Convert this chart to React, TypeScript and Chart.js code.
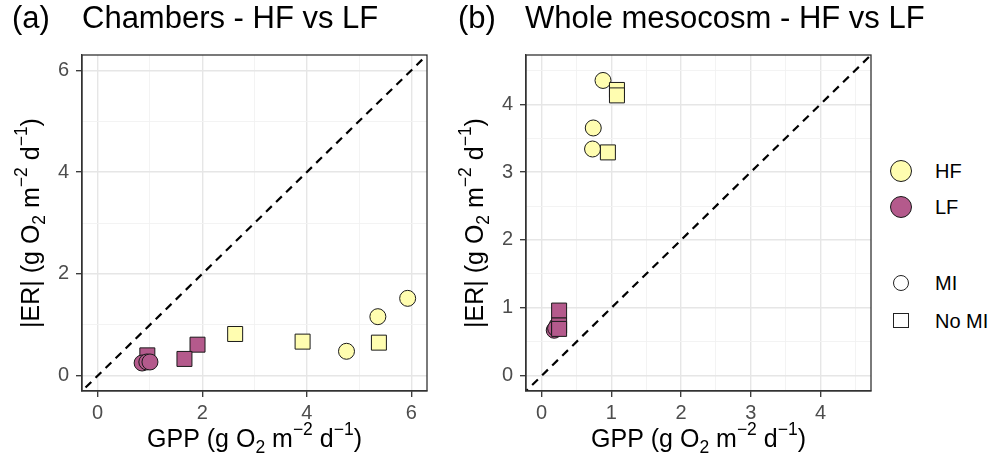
import React, { useEffect, useRef } from 'react';
import { Chart, registerables } from 'chart.js';

Chart.register(...registerables);

// ---------- data ----------
// Panel (a): Chambers
const chamHF_MI_gpp = [5.93, 5.36, 4.76];
const chamHF_MI_er = [1.52, 1.16, 0.48];
const chamHF_NoMI_gpp = [5.38, 3.92, 2.63];
const chamHF_NoMI_er = [0.65, 0.67, 0.82];
const chamLF_NoMI_gpp = [1.91, 1.66, 0.95];
const chamLF_NoMI_er = [0.61, 0.33, 0.4];
const chamLF_MI_gpp = [0.85, 0.94, 1.0];
const chamLF_MI_er = [0.25, 0.27, 0.27];

// Panel (b): Whole mesocosm
const mesoHF_MI_gpp = [0.88, 0.74, 0.73];
const mesoHF_MI_er = [4.35, 3.65, 3.34];
const mesoHF_NoMI_gpp = [1.08, 1.08, 0.95];
const mesoHF_NoMI_er = [4.21, 4.13, 3.29];
const mesoLF_NoMI_gpp = [0.25, 0.25, 0.25];
const mesoLF_NoMI_er = [0.96, 0.74, 0.69];
const mesoLF_MI_gpp = [0.18, 0.22, 0.2];
const mesoLF_MI_er = [0.67, 0.74, 0.7];

// 1:1 reference line end points
const identityLine = [-1, 10];

// axes
const chamTicks = [0, 1, 2, 3, 4, 5, 6];
const chamLimit = 6;
const mesoTicks = [0, 0.5, 1, 1.5, 2, 2.5, 3, 3.5, 4, 4.5];
const mesoLimit = 4.5;

const panelTitles = ['Chambers - HF vs LF', 'Whole mesocosm - HF vs LF'];
const panelTags = ['(a)', '(b)'];
// axis titles: [text, role] where role n = normal, sub = subscript, sup = superscript
const xTitleParts: [string, string][] = [['GPP (g O', 'n'], ['2', 'sub'], [' m', 'n'], ['\u22122', 'sup'], [' d', 'n'], ['\u22121', 'sup'], [')', 'n']];
const yTitleParts: [string, string][] = [['|ER| (g O', 'n'], ['2', 'sub'], [' m', 'n'], ['\u22122', 'sup'], [' d', 'n'], ['\u22121', 'sup'], [')', 'n']];

const legendFillLabels = ['HF', 'LF'];
const legendShapeLabels = ['MI', 'No MI'];

// ---------- styles ----------
const HF_COLOR = '#FFFDB0';
const LF_COLOR = '#B45A8C';
const FONT = '"Liberation Sans", Arial, sans-serif';
const TITLE_SIZE = 25;

const zip = (xs: number[], ys: number[]) => xs.map((x, i) => ({ x, y: ys[i] }));

function pointSet(xs: number[], ys: number[], color: string, shape: 'circle' | 'rect') {
  return {
    data: zip(xs, ys),
    backgroundColor: color,
    borderColor: '#1a1a1a',
    borderWidth: 1,
    pointStyle: shape,
    pointRadius: shape === 'circle' ? 8 : 10.6,
    pointHoverRadius: shape === 'circle' ? 8 : 10.6,
  };
}

function lineSet() {
  return {
    data: identityLine.map((v) => ({ x: v, y: v })),
    showLine: true,
    borderColor: '#000',
    borderWidth: 2.2,
    borderDash: [8, 6],
    pointRadius: 0,
    pointHoverRadius: 0,
    fill: false,
  };
}

const borderPlugin = {
  id: 'panelBorder',
  afterDatasetsDraw(chart: any) {
    const { ctx, chartArea: a } = chart;
    ctx.save();
    ctx.strokeStyle = '#333333';
    ctx.lineWidth = 1.3;
    ctx.strokeRect(a.left, a.top, a.right - a.left, a.bottom - a.top);
    ctx.restore();
  },
};

function drawRich(ctx: CanvasRenderingContext2D, parts: [string, string][], x: number, y: number, rotate: boolean) {
  const F = TITLE_SIZE;
  const sizeOf = (role: string) => (role === 'n' ? F : F * 0.7);
  const dyOf = (role: string) => (role === 'sub' ? F * 0.25 : role === 'sup' ? -F * 0.5 : 0);
  let total = 0;
  const widths: number[] = [];
  for (const [t, role] of parts) {
    ctx.font = `${sizeOf(role)}px ${FONT}`;
    const w = ctx.measureText(t).width;
    widths.push(w);
    total += w;
  }
  ctx.save();
  ctx.translate(x, y);
  if (rotate) ctx.rotate(-Math.PI / 2);
  ctx.fillStyle = '#000';
  ctx.textBaseline = 'alphabetic';
  ctx.textAlign = 'left';
  let pos = -total / 2;
  parts.forEach(([t, role], i) => {
    ctx.font = `${sizeOf(role)}px ${FONT}`;
    ctx.fillText(t, pos, dyOf(role));
    pos += widths[i];
  });
  ctx.restore();
}

const titlePlugin = {
  id: 'richAxisTitles',
  afterDraw(chart: any) {
    const { ctx, chartArea: a } = chart;
    drawRich(ctx, xTitleParts, (a.left + a.right) / 2, 447, false);
    drawRich(ctx, yTitleParts, 39, (a.top + a.bottom) / 2, true);
  },
};

function axisOptions(ticks: number[], limit: number, majorStep: number, isX: boolean) {
  const pad = limit * 0.05;
  const isMajor = (v: number) => Math.abs(v / majorStep - Math.round(v / majorStep)) < 1e-6;
  return {
    type: 'linear',
    position: isX ? 'bottom' : 'left',
    min: -pad,
    max: limit + pad,
    afterBuildTicks: (scale: any) => {
      scale.ticks = ticks.map((v) => ({ value: v }));
    },
    afterFit: (scale: any) => {
      if (isX) scale.height = 77;
      else scale.width = 82;
    },
    ticks: {
      autoSkip: false,
      maxRotation: 0,
      color: '#4d4d4d',
      font: { family: FONT, size: 20 },
      padding: isX ? 4 : 7,
      callback: (v: number) => (isMajor(v) ? String(v) : ''),
    },
    grid: {
      color: (c: any) => (c.tick && isMajor(c.tick.value) ? '#e6e6e6' : '#f2f2f2'),
      lineWidth: (c: any) => (c.tick && isMajor(c.tick.value) ? 1.4 : 0.9),
      tickColor: (c: any) => (c.tick && isMajor(c.tick.value) ? '#333333' : 'rgba(0,0,0,0)'),
      tickLength: 6,
      tickWidth: 1.3,
      drawTicks: true,
    },
    border: { display: true, color: '#333333', width: 1.3 },
    title: { display: false },
  };
}

function Panel(props: { left: number; width: number; datasets: any[]; ticks: number[]; limit: number; majorStep: number }) {
  const ref = useRef<HTMLCanvasElement | null>(null);
  useEffect(() => {
    if (!ref.current) return;
    const chart = new Chart(ref.current, {
      type: 'scatter',
      data: { datasets: props.datasets },
      options: {
        animation: false,
        responsive: false,
        devicePixelRatio: 1,
        layout: { padding: { top: 55, right: props.width - 82 - 345, left: 0, bottom: 0 } },
        plugins: { legend: { display: false }, tooltip: { enabled: false } },
        scales: {
          x: axisOptions(props.ticks, props.limit, props.majorStep, true) as any,
          y: axisOptions(props.ticks, props.limit, props.majorStep, false) as any,
        },
      },
      plugins: [borderPlugin, titlePlugin],
    });
    return () => chart.destroy();
  }, []);
  return (
    <canvas
      ref={ref}
      width={props.width}
      height={468}
      style={{ position: 'absolute', left: props.left, top: 0, width: props.width, height: 468 }}
    />
  );
}

const titleStyle = (left: number): React.CSSProperties => ({
  position: 'absolute',
  left,
  top: 2,
  fontFamily: FONT,
  fontSize: 31,
  lineHeight: '31px',
  color: '#000',
  whiteSpace: 'nowrap',
});

export default function App() {
  const chamSets = [
    lineSet(),
    pointSet(chamHF_NoMI_gpp, chamHF_NoMI_er, HF_COLOR, 'rect'),
    pointSet(chamHF_MI_gpp, chamHF_MI_er, HF_COLOR, 'circle'),
    pointSet(chamLF_MI_gpp, chamLF_MI_er, LF_COLOR, 'circle'),
    pointSet(chamLF_NoMI_gpp, chamLF_NoMI_er, LF_COLOR, 'rect'),
  ];
  const mesoSets = [
    lineSet(),
    pointSet(mesoHF_NoMI_gpp, mesoHF_NoMI_er, HF_COLOR, 'rect'),
    pointSet(mesoHF_MI_gpp, mesoHF_MI_er, HF_COLOR, 'circle'),
    pointSet(mesoLF_NoMI_gpp, mesoLF_NoMI_er, LF_COLOR, 'rect'),
    pointSet(mesoLF_MI_gpp, mesoLF_MI_er, LF_COLOR, 'circle'),
  ];
  const legendCx = 901;
  const fillYs = [171, 207];
  const shapeYs = [283, 321];
  const textStyle = (cy: number): React.CSSProperties => ({
    position: 'absolute',
    left: 935,
    top: cy - 11,
    height: 22,
    lineHeight: '22px',
    fontFamily: FONT,
    fontSize: 20,
    color: '#000',
    whiteSpace: 'nowrap',
  });
  return (
    <div style={{ position: 'fixed', left: 0, top: 0, width: 992, height: 468, background: '#fff', overflow: 'hidden' }}>
      <Panel left={0} width={444} datasets={chamSets} ticks={chamTicks} limit={chamLimit} majorStep={2} />
      <Panel left={444} width={445} datasets={mesoSets} ticks={mesoTicks} limit={mesoLimit} majorStep={1} />
      <div style={titleStyle(12)}>{panelTags[0]}</div>
      <div style={titleStyle(82)}>{panelTitles[0]}</div>
      <div style={titleStyle(458)}>{panelTags[1]}</div>
      <div style={titleStyle(525)}>{panelTitles[1]}</div>
      {legendFillLabels.map((lab, i) => (
        <React.Fragment key={lab}>
          <div
            style={{
              position: 'absolute',
              left: legendCx - 11,
              top: fillYs[i] - 11,
              width: 22,
              height: 22,
              borderRadius: '50%',
              border: '1px solid #1a1a1a',
              boxSizing: 'border-box',
              background: i === 0 ? HF_COLOR : LF_COLOR,
            }}
          />
          <div style={textStyle(fillYs[i])}>{lab}</div>
        </React.Fragment>
      ))}
      {legendShapeLabels.map((lab, i) => (
        <React.Fragment key={lab}>
          <div
            style={{
              position: 'absolute',
              left: legendCx - 8,
              top: shapeYs[i] - 8,
              width: 16,
              height: i === 0 ? 16 : 15,
              borderRadius: i === 0 ? '50%' : 0,
              border: '1.3px solid #222',
              boxSizing: 'border-box',
              background: '#fff',
            }}
          />
          <div style={textStyle(shapeYs[i])}>{lab}</div>
        </React.Fragment>
      ))}
    </div>
  );
}
